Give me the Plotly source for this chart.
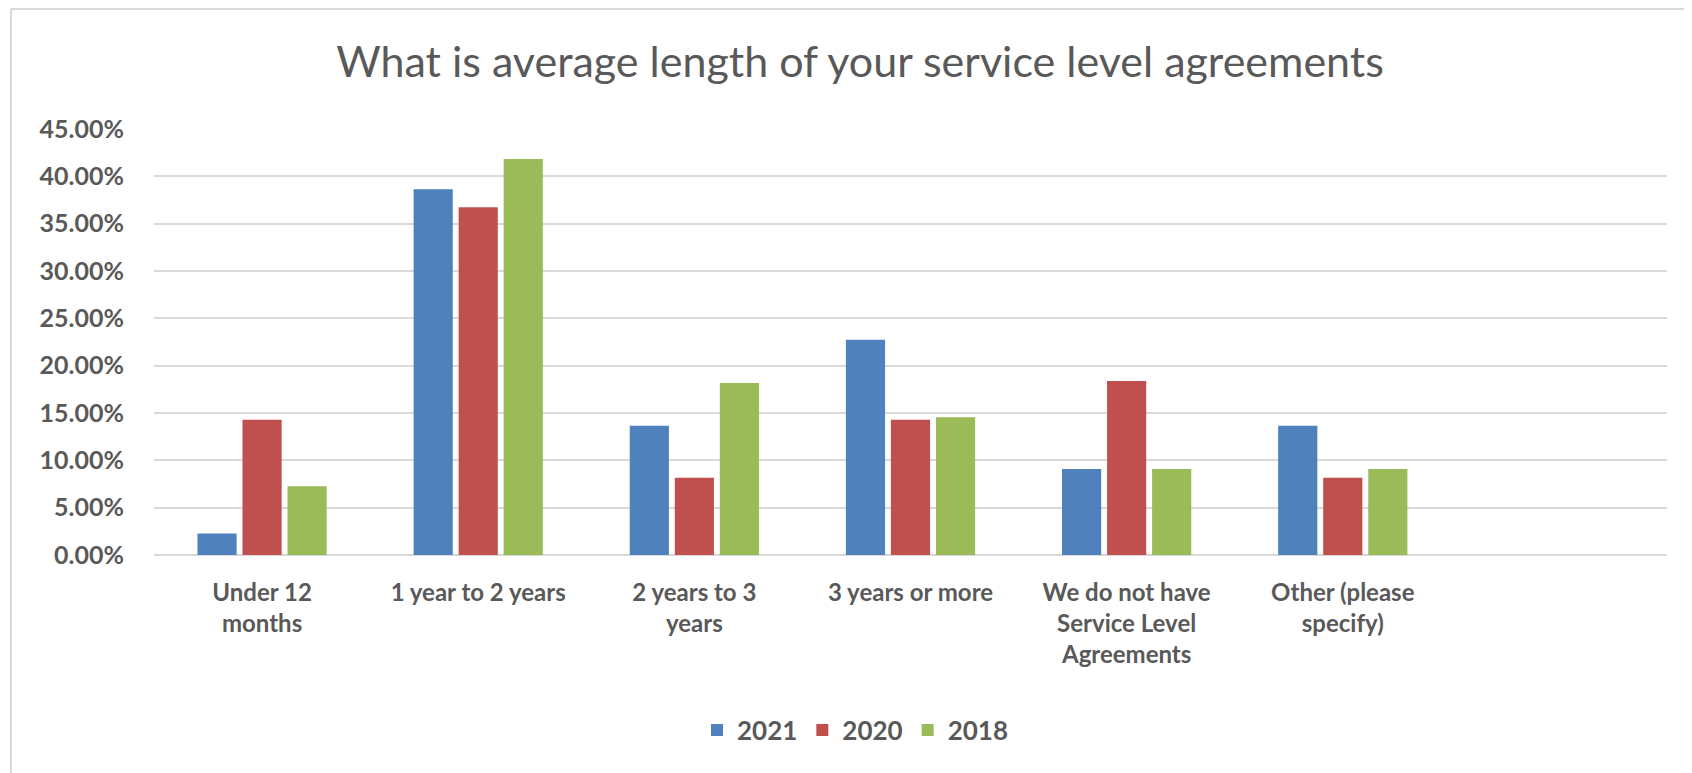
import plotly.graph_objects as go

categories = ["Under 12<br>months", "1 year to 2 years", "2 years to 3<br>years",
              "3 years or more", "We do not have<br>Service Level<br>Agreements",
              "Other (please<br>specify)", " "]
v2021 = [0.0227, 0.3864, 0.1364, 0.2273, 0.0909, 0.1364, None]
v2020 = [0.1429, 0.3673, 0.0816, 0.1429, 0.1837, 0.0816, None]
v2018 = [0.0727, 0.4182, 0.1818, 0.1455, 0.0909, 0.0909, None]
series = [("2021", v2021, "#4f81bd"), ("2020", v2020, "#c0504d"), ("2018", v2018, "#9bbb59")]
yticks = [i * 0.05 for i in range(10)]

OFF = 8  # page body margin
W, H = 1692 - OFF, 773 - OFF
L, T = 154 - OFF, 129 - OFF
R = W - (1667 - OFF)
B = H - (555 - OFF)
pw, ph = W - L - R, H - T - B

fig = go.Figure()
for name, vals, col in series:
    fig.add_trace(go.Bar(x=categories, y=vals, name=name, marker=dict(color=col, line=dict(width=0))))

txt = "#595959"
fig.update_layout(
    width=W, height=H,
    margin=dict(l=L, r=R, t=T, b=B, autoexpand=False),
    paper_bgcolor="white", plot_bgcolor="white",
    barmode="group", bargap=0.375, bargroupgap=0.13,
    font=dict(family="Lato", color=txt),
    title=dict(text="What is average length of your service level agreements",
               x=(860 - OFF) / W, xanchor="center", y=1 - (62 - OFF) / H, yanchor="middle",
               font=dict(family="Lato", size=43, color=txt)),
    legend=dict(orientation="h", x=(855 - 154) / pw, xanchor="center",
                y=-(730 - 555) / ph, yanchor="middle",
                font=dict(family="Lato", size=26, color=txt, weight="bold"),
                itemwidth=30, tracegroupgap=0),
    showlegend=True,
)
fig.update_xaxes(showgrid=False, showline=False, zeroline=False, ticks="",
                 tickfont=dict(family="Lato", size=24, color=txt, weight="bold"),
                 ticklabelstandoff=21)
fig.update_yaxes(range=[0, 0.45], tickvals=yticks, tickformat=".2%",
                 showgrid=True, gridcolor="#d9d9d9", gridwidth=2,
                 zeroline=True, zerolinecolor="#d9d9d9", zerolinewidth=2,
                 showline=False, ticks="", ticklabelstandoff=29,
                 tickfont=dict(family="Lato", size=25, color=txt, weight="bold"))

# chart frame (left and top edges)
fx0 = (11 - 154) / pw
fy1 = 1 + (129 - 9) / ph
fig.add_shape(type="line", xref="paper", yref="paper", x0=fx0, x1=fx0, y0=-5, y1=fy1,
              line=dict(color="#d9d9d9", width=2))
fig.add_shape(type="line", xref="paper", yref="paper", x0=fx0, x1=5, y0=fy1, y1=fy1,
              line=dict(color="#d9d9d9", width=2))

fig.write_html("out.html")
